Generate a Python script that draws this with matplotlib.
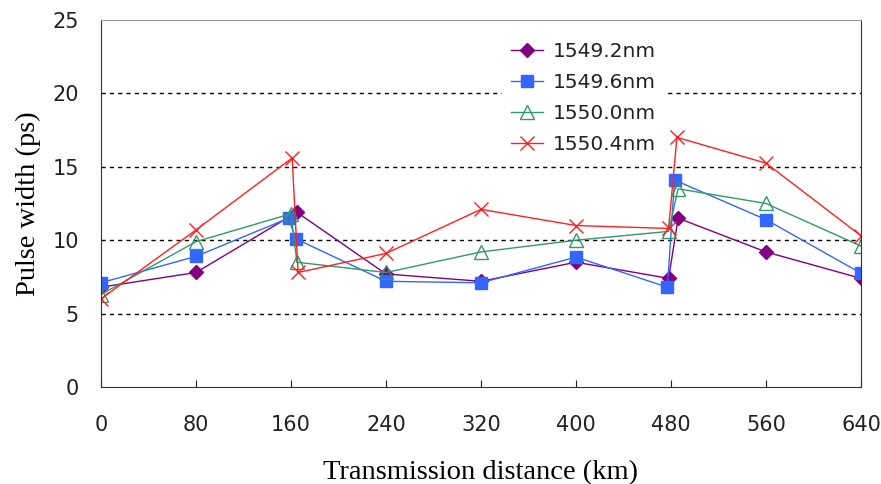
import matplotlib
matplotlib.use("Agg")
import matplotlib.pyplot as plt

# transmission distance (km); points near 160 and 480 are split before/after
x1 = [0, 80, 165, 240, 320, 400, 478, 486, 560, 640]
w1549_2 = [6.8, 7.8, 11.9, 7.7, 7.2, 8.5, 7.4, 11.5, 9.2, 7.4]

x2 = [0, 80, 158, 164, 240, 320, 400, 477, 483, 560, 640]
w1549_6 = [7.1, 8.9, 11.5, 10.1, 7.2, 7.1, 8.85, 6.8, 14.1, 11.4, 7.75]

x3 = [0, 80, 160, 165, 240, 320, 400, 478, 486, 560, 640]
w1550_0 = [6.3, 9.9, 11.8, 8.5, 7.8, 9.2, 10.0, 10.6, 13.5, 12.5, 9.6]

x4 = [0, 80, 161, 166, 240, 320, 400, 478, 485, 560, 640]
w1550_4 = [6.0, 10.7, 15.6, 7.8, 9.1, 12.1, 11.0, 10.8, 17.0, 15.25, 10.3]

xticks = [0, 80, 160, 240, 320, 400, 480, 560, 640]
yticks = [0, 5, 10, 15, 20, 25]

fig = plt.figure(figsize=(8.81, 4.84), dpi=100)
ax = fig.add_axes([0.1146, 0.2004, 0.8627, 0.7583])

ax.plot(x1, w1549_2, color="#800080", marker="D", markersize=7, lw=1, label="1549.2nm")
ax.plot(x2, w1549_6, color="#3366ff", marker="s", markersize=9, lw=1, label="1549.6nm")
ax.plot(x3, w1550_0, color="#339966", marker="^", markersize=10, lw=1,
        markerfacecolor="none", label="1550.0nm")
ax.plot(x4, w1550_4, color="#ff2020", marker="x", markersize=10, lw=1, label="1550.4nm")

ax.set_xlim(0, 640)
ax.set_ylim(0, 25)
ax.set_xticks(xticks)
ax.set_yticks(yticks)
for y in [5, 10, 15, 20]:
    ax.axhline(y, color="black", ls=(0, (3, 3)), lw=1, zorder=0)

ax.tick_params(axis="x", direction="in", length=5, labelsize=15, pad=20, colors="#222222")
ax.tick_params(axis="y", length=0, labelsize=15, pad=16, colors="#222222")
for s in ax.spines.values():
    s.set_color("#333333")
ax.spines["top"].set_color("#999999")

ax.set_xlabel("Transmission distance (km)", family="Liberation Serif", fontsize=20.5, labelpad=18)
ax.set_ylabel("Pulse width (ps)", family="Liberation Serif", fontsize=20.5, labelpad=8)

leg = ax.legend(loc="upper left", bbox_to_anchor=(0.515, 0.99), frameon=True, fontsize=14.5,
                handlelength=1.6, handletextpad=0.5, labelspacing=0.6, borderpad=0.4)
leg.get_frame().set_edgecolor("none")
leg.get_frame().set_facecolor("white")
leg.get_frame().set_alpha(1)
for t in leg.get_texts():
    t.set_color("#222222")

fig.savefig("out.png", dpi=100)
